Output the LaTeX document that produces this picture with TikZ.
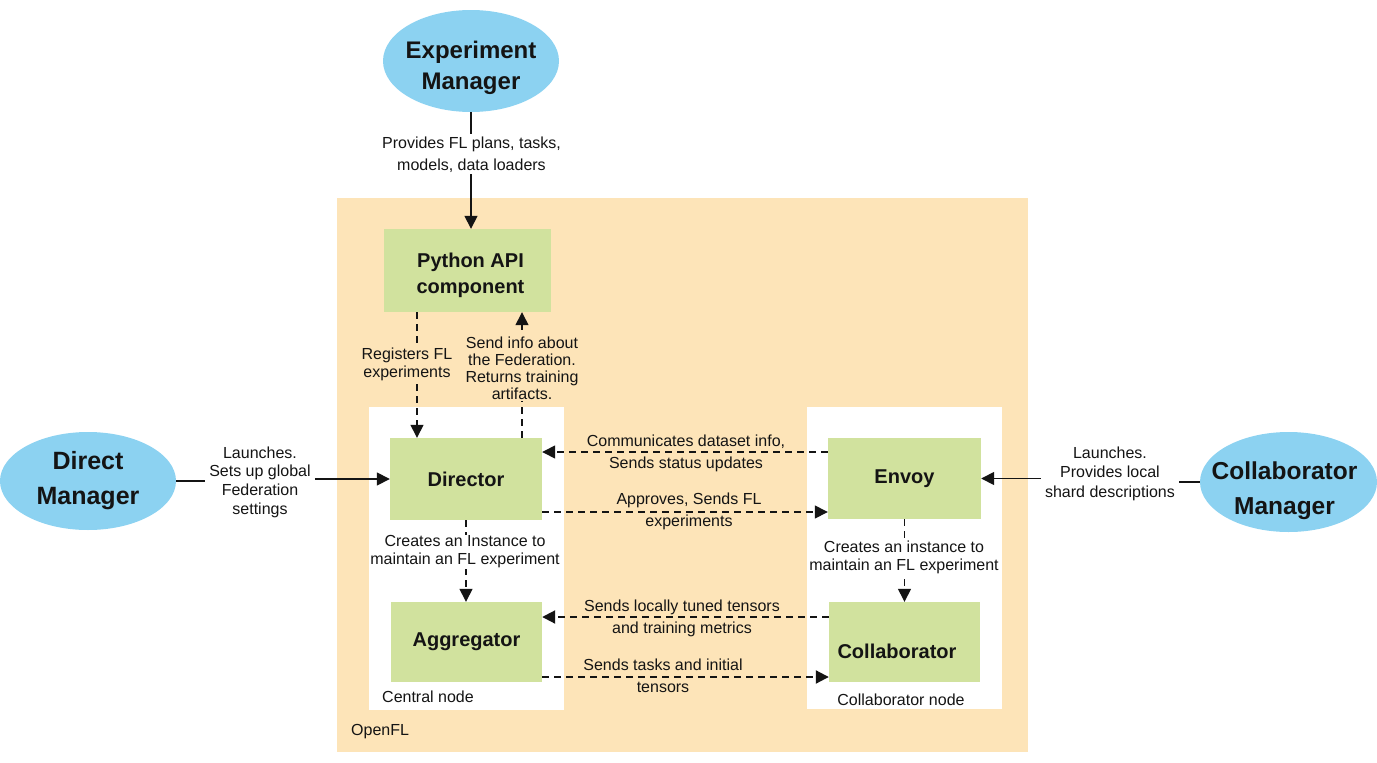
\documentclass[tikz,border=0pt]{standalone}
\usepackage{fontspec}
\setmainfont{Liberation Sans}
\usetikzlibrary{arrows.meta,shapes.geometric}
\definecolor{bgorange}{RGB}{253,228,184}
\definecolor{boxgreen}{RGB}{209,226,158}
\definecolor{ellblue}{RGB}{140,210,241}
\definecolor{ink}{RGB}{20,20,20}
\tikzset{
  ellnode/.style={ellipse, fill=ellblue, draw=none, inner sep=0pt},
  elltext/.style={font=\fontsize{25}{35}\selectfont\bfseries, align=center, text=ink, inner sep=0pt},
  gbox/.style={fill=boxgreen, inner sep=0pt, font=\fontsize{20}{26}\selectfont\bfseries, align=center, text=ink},
  gtext/.style={font=\fontsize{20}{26}\selectfont\bfseries, align=center, text=ink, inner sep=0pt},
  whitebox/.style={fill=white, inner sep=0pt, anchor=north west},
  lbl/.style={font=\fontsize{16}{22}\selectfont, align=center, text=ink, inner sep=2pt},
  solidline/.style={draw=ink, line width=1.6pt},
  solidarrow/.style={draw=ink, line width=1.6pt, -{Triangle[length=13pt,width=13pt]}},
  dasharrow/.style={draw=ink, line width=1.4pt, dash pattern=on 7pt off 5pt, -{Triangle[length=13pt,width=13pt]}},
  bolddasharrow/.style={dasharrow, line width=2pt},
}
\begin{document}
\begin{tikzpicture}[x=1pt,y=-1pt]
\useasboundingbox (0,0) rectangle (1377,763);
% containers
\node[fill=bgorange, inner sep=0pt, anchor=north west, minimum width=691pt, minimum height=554pt] (openfl) at (337,198) {};
\node[whitebox, minimum width=195pt, minimum height=303pt] (central) at (369,407) {};
\node[whitebox, minimum width=195pt, minimum height=302pt] (collabarea) at (807,407) {};
\node[lbl, anchor=base west, inner sep=0pt] (openfllab) at (351,735) {OpenFL};
\node[lbl, anchor=base west, inner sep=0pt] (centrallab) at (382,702) {Central node};
\node[lbl, anchor=base, inner sep=0pt] (collablab) at (901,705) {Collaborator node};
% ellipses
\node[ellnode, minimum width=176pt, minimum height=102pt,
  label={[elltext, font=\fontsize{24}{31}\selectfont\bfseries, yshift=-7pt]center:Experiment\\Manager}] (em) at (471,61) {};
\node[ellnode, minimum width=176pt, minimum height=98pt, elltext, inner sep=0pt] (dm) at (88,481) {Direct\\Manager};
\node[ellnode, minimum width=177pt, minimum height=100pt,
  label={[elltext, font=\fontsize{24.5}{35}\selectfont\bfseries, xshift=-4pt, yshift=-9pt]center:Collaborator\\Manager}] (cm) at (1288.5,482) {};
% green boxes
\node[gbox, minimum width=167pt, minimum height=83pt,
  label={[gtext, xshift=3pt, yshift=-4.5pt]center:Python API\\component}] (py) at (467.5,270.5) {};
\node[gbox, minimum width=152pt, minimum height=82pt] (dir) at (466,479) {Director};
\node[gbox, minimum width=153pt, minimum height=81pt] (env) at (904.5,478.5) {Envoy};
\node[gbox, minimum width=151pt, minimum height=80pt] (agg) at (466.5,642) {Aggregator};
\node[gbox, minimum width=151pt, minimum height=80pt,
  label={[gtext, xshift=-7.5pt, yshift=-9pt]center:Collaborator}] (col) at (904.5,642) {};
% labels used as connector ends
\node[lbl] (emlab) at (471.5,154.3) {Provides FL plans, tasks,\\models, data loaders};
\node[lbl, font=\fontsize{16}{18.7}\selectfont, inner xsep=4pt] (dmlab) at (260,482) {Launches.\\Sets up global\\Federation\\settings};
\node[lbl, font=\fontsize{16}{19.5}\selectfont, inner xsep=4pt] (cmlab) at (1110,473.4) {Launches.\\Provides local\\shard descriptions};
% connectors
\draw[solidline] (em.south) -- (em.south |- emlab.north);
\draw[solidarrow] (em.south |- emlab.south) -- (em.south |- py.north);
\draw[solidline] (dm.east) -- (dm.east -| dmlab.west);
\draw[solidarrow] (dmlab.east |- dir.west) -- (dir.west);
\draw[solidline] (cm.west) -- (cm.west -| cmlab.east);
\draw[solidarrow] (cmlab.west |- env.east) -- (env.east);
\draw[dasharrow] ([xshift=-50.5pt]py.south) -- ([xshift=-50.5pt]py.south |- dir.north);
\draw[dasharrow] ([xshift=56pt]dir.north) -- ([xshift=56pt]dir.north |- py.south);
\draw[dasharrow] ([yshift=26.5pt]env.west) -- ([yshift=26.5pt]env.west -| dir.east);
\draw[dasharrow] ([yshift=-33pt]dir.east) -- ([yshift=-33pt]dir.east -| env.west);
\draw[dasharrow] (dir.south) -- (dir.south |- agg.north);
\draw[dasharrow] (env.south) -- (env.south |- col.north);
\draw[bolddasharrow] ([yshift=25pt]col.west) -- ([yshift=25pt]col.west -| agg.east);
\draw[bolddasharrow] ([yshift=-35pt]agg.east) -- ([yshift=-35pt]agg.east -| col.west);
% edge labels
\node[lbl, font=\fontsize{16}{18}\selectfont, fill=bgorange] (reglab) at (407,363.9) {Registers FL\\experiments};
\node[lbl, font=\fontsize{16}{17}\selectfont, fill=bgorange] (sendlab) at (522,367.8) {Send info about\\the Federation.\\Returns training\\artifacts.};
\node[lbl] (commlab) at (686,452.9) {Communicates dataset info,\\Sends status updates};
\node[lbl] (apprlab) at (689,510.9) {Approves, Sends FL\\experiments};
\node[lbl, font=\fontsize{16}{18}\selectfont, fill=white, inner sep=0.5pt] (dirlab) at (465,551.9) {Creates an Instance to\\maintain an FL experiment};
\node[lbl, font=\fontsize{16}{18}\selectfont, fill=white, inner sep=0.5pt] (envlab) at (904,556.9) {Creates an instance to\\maintain an FL experiment};
\node[lbl] (loclab) at (682,617.9) {Sends locally tuned tensors\\and training metrics};
\node[lbl] (tasklab) at (663,675.3) {Sends tasks and initial\\tensors};
\end{tikzpicture}
\end{document}
